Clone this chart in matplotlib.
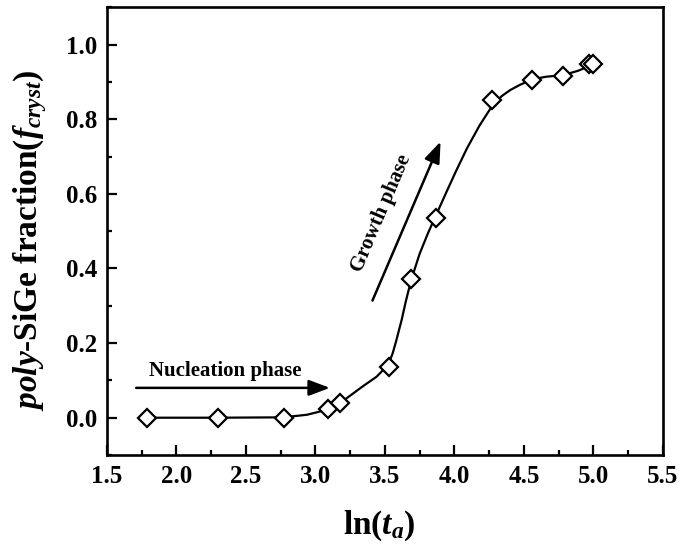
import matplotlib
matplotlib.use('Agg')
import matplotlib.pyplot as plt
from matplotlib.ticker import MultipleLocator

plt.rcParams['font.family'] = 'Liberation Serif'
plt.rcParams['font.weight'] = 'bold'
plt.rcParams['mathtext.fontset'] = 'custom'
plt.rcParams['mathtext.rm'] = 'Liberation Serif:bold'
plt.rcParams['mathtext.it'] = 'Liberation Serif:italic:bold'
plt.rcParams['mathtext.bf'] = 'Liberation Serif:bold'

# Measured points: ln(annealing time) vs crystallised fraction
ln_t = [1.79, 2.30, 2.77, 3.09, 3.18, 3.53, 3.69, 3.87, 4.27, 4.56, 4.78, 4.97, 5.00]
f_cryst = [0.0, 0.0, 0.0, 0.022, 0.040, 0.136, 0.371, 0.535, 0.851, 0.905, 0.916, 0.947, 0.947]

# Fitted curve
curve_x = [1.79, 2.30, 2.77, 2.94, 3.09, 3.18, 3.26, 3.34, 3.44, 3.50, 3.53, 3.555, 3.58,
           3.62, 3.65, 3.69, 3.75, 3.81, 3.87, 3.94, 4.01, 4.09, 4.18, 4.27, 4.34,
           4.40, 4.47, 4.56, 4.66, 4.78, 4.89, 5.00]
curve_y = [0.0, 0.0, 0.001, 0.008, 0.022, 0.040, 0.062, 0.084, 0.110, 0.133, 0.148, 0.172, 0.205,
           0.262, 0.312, 0.371, 0.440, 0.495, 0.545, 0.603, 0.660, 0.722, 0.783, 0.835, 0.862,
           0.878, 0.892, 0.907, 0.914, 0.918, 0.930, 0.947]

fig = plt.figure(figsize=(6.81, 5.5), dpi=100)
ax = fig.add_axes([0.1571, 0.1727, 0.8164, 0.814])

ax.plot(curve_x, curve_y, color='black', lw=1.6, zorder=2)
ax.plot(ln_t, f_cryst, linestyle='none', marker='D', markersize=9,
        markerfacecolor='white', markeredgecolor='black', markeredgewidth=1.6, zorder=3)

# Phase arrows
arrow = dict(arrowstyle='-|>,head_length=0.4,head_width=0.15', lw=1.8, color='black',
             mutation_scale=32, shrinkA=0, shrinkB=0)
ax.annotate('', xy=(3.104, 0.08), xytext=(1.71, 0.08), arrowprops=arrow)
ax.annotate('', xy=(3.90, 0.74), xytext=(3.41, 0.314), arrowprops=arrow)
ax.text(2.35, 0.126, 'Nucleation phase', ha='center', va='center', fontsize=15, fontweight='bold')
ax.text(3.476, 0.549, 'Growth phase', ha='center', va='center', fontsize=15,
        fontweight='bold', rotation=67)

ax.set_xlim(1.5, 5.5)
ax.set_ylim(-0.1, 1.1)
ax.xaxis.set_major_locator(MultipleLocator(0.5))
ax.xaxis.set_minor_locator(MultipleLocator(0.25))
ax.yaxis.set_major_locator(MultipleLocator(0.2))
ax.yaxis.set_minor_locator(MultipleLocator(0.1))
ax.set_yticks([0.0, 0.2, 0.4, 0.6, 0.8, 1.0])
ax.set_xticklabels(['%.1f' % v for v in ax.get_xticks()])
ax.set_yticklabels(['%.1f' % v for v in ax.get_yticks()])

ax.tick_params(which='both', direction='in', top=False, right=False, width=1.6, labelsize=18)
ax.tick_params(which='major', length=7)
ax.tick_params(which='minor', length=3.5)
ax.tick_params(axis='x', pad=7)
ax.tick_params(axis='y', pad=7)
for s in ax.spines.values():
    s.set_linewidth(1.9)

ax.set_xlabel(r'ln($\mathit{t}_{\mathit{a}}$)', fontsize=24, fontweight='bold')
ax.set_ylabel(r'$\mathit{poly}$-SiGe fraction($\mathit{f}_{\mathit{cryst}}$)', fontsize=24,
              fontweight='bold')
ax.yaxis.set_label_coords(-0.105, 0.48)
ax.xaxis.set_label_coords(0.49, -0.12)

fig.savefig('out.png', dpi=100)
